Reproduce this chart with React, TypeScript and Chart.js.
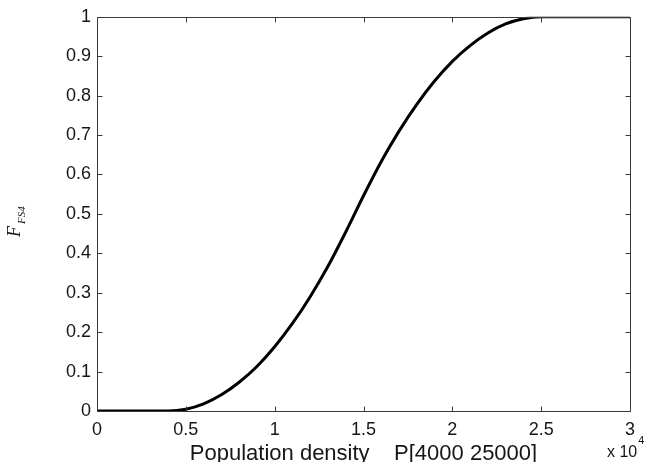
import React, { useEffect, useRef } from "react";
import { Chart, registerables } from "chart.js";

Chart.register(...registerables);

// Population density (people) (shown in units of 10^4)
const densityValues = [
  0, 1000, 2000, 3000, 4000, 5000, 6000, 7000, 8000, 9000,
  10000, 11000, 12000, 13000, 14000, 15000, 16000, 17000, 18000, 19000,
  20000, 21000, 22000, 23000, 24000, 25000, 26000, 27000, 28000, 29000, 30000,
];

// F_FS4 membership values
const fs4Values = [
  0, 0, 0, 0, 0, 0.0045, 0.018, 0.041, 0.073, 0.113,
  0.163, 0.222, 0.29, 0.367, 0.454, 0.546, 0.633, 0.71, 0.778, 0.837,
  0.887, 0.927, 0.959, 0.982, 0.995, 1, 1, 1, 1, 1, 1,
];

const xTickValues = [0, 5000, 10000, 15000, 20000, 25000, 30000];
const xTickLabels = ["0", "0.5", "1", "1.5", "2", "2.5", "3"];
const yTickValues = [0, 0.1, 0.2, 0.3, 0.4, 0.5, 0.6, 0.7, 0.8, 0.9, 1];
const yTickLabels = ["0", "0.1", "0.2", "0.3", "0.4", "0.5", "0.6", "0.7", "0.8", "0.9", "1"];

const xAxisTitle = "Population density    P[4000 25000]";
const xExponentBase = "x 10";
const xExponent = "4";
const yTitleMain = "F";
const yTitleSub = "FS4";

const SANS = '"Liberation Sans", Arial, sans-serif';
const SERIF = '"Liberation Serif", "Times New Roman", serif';
const TEXT = "#161616";
const AXIS = "#3a3a3a";

const framePlugin = {
  id: "matlabFrame",
  afterDraw(chart: any) {
    const { ctx, chartArea, scales } = chart;
    const { left, right, top, bottom } = chartArea;
    const xs = scales.x;
    const ys = scales.y;
    ctx.save();
    ctx.strokeStyle = AXIS;
    ctx.lineWidth = 1;
    const L = Math.round(left) + 0.5;
    const R = Math.round(right) + 0.5;
    const T = Math.round(top) + 0.5;
    const B = Math.round(bottom) + 0.5;
    ctx.beginPath();
    ctx.rect(L, T, R - L, B - T);
    ctx.stroke();
    const tl = 5;
    ctx.beginPath();
    xTickValues.forEach((v) => {
      const px = Math.round(xs.getPixelForValue(v)) + 0.5;
      ctx.moveTo(px, B);
      ctx.lineTo(px, B - tl);
      ctx.moveTo(px, T);
      ctx.lineTo(px, T + tl);
    });
    yTickValues.forEach((v) => {
      const py = Math.round(ys.getPixelForValue(v)) + 0.5;
      ctx.moveTo(L, py);
      ctx.lineTo(L + tl, py);
      ctx.moveTo(R, py);
      ctx.lineTo(R - tl, py);
    });
    ctx.stroke();

    // x axis title
    ctx.fillStyle = TEXT;
    ctx.textBaseline = "alphabetic";
    ctx.textAlign = "center";
    ctx.font = `22px ${SANS}`;
    ctx.fillText(xAxisTitle, (left + right) / 2, 460);

    // x 10^4 multiplier
    ctx.textAlign = "left";
    ctx.font = `16px ${SANS}`;
    ctx.fillText(xExponentBase, 607, 457);
    const wb = ctx.measureText(xExponentBase).width;
    ctx.font = `11px ${SANS}`;
    ctx.fillText(xExponent, 607 + wb + 1, 444);

    // y axis title F_FS4 (rotated)
    ctx.translate(20, 237);
    ctx.rotate(-Math.PI / 2);
    ctx.font = `italic 18px ${SERIF}`;
    ctx.fillText(yTitleMain, 0, 0);
    const wf = ctx.measureText(yTitleMain).width;
    ctx.font = `italic 11px ${SERIF}`;
    ctx.fillText(yTitleSub, wf + 2, 5);
    ctx.restore();
  },
};

export default function App() {
  const canvasRef = useRef<HTMLCanvasElement | null>(null);

  useEffect(() => {
    const canvas = canvasRef.current;
    if (!canvas) return;
    const chart = new Chart(canvas, {
      type: "line",
      data: {
        datasets: [
          {
            data: densityValues.map((x, i) => ({ x, y: fs4Values[i] })),
            borderColor: "#000000",
            borderWidth: 3,
            pointRadius: 0,
            fill: false,
            cubicInterpolationMode: "monotone",
          },
        ],
      },
      options: {
        responsive: false,
        animation: false,
        devicePixelRatio: 1,
        layout: { padding: { left: 0, right: 24, top: 15, bottom: 0 } },
        plugins: { legend: { display: false }, tooltip: { enabled: false } },
        scales: {
          x: {
            type: "linear",
            min: 0,
            max: 30000,
            afterBuildTicks: (s: any) => {
              s.ticks = xTickValues.map((value) => ({ value }));
            },
            afterFit: (s: any) => {
              s.height = 51;
            },
            grid: { display: false, drawTicks: false },
            border: { display: false },
            ticks: {
              maxRotation: 0,
              autoSkip: false,
              padding: 8,
              color: TEXT,
              font: { family: SANS, size: 18 },
              callback: (_v: any, i: number) => xTickLabels[i],
            },
          },
          y: {
            type: "linear",
            min: 0,
            max: 1,
            afterBuildTicks: (s: any) => {
              s.ticks = yTickValues.map((value) => ({ value }));
            },
            afterFit: (s: any) => {
              s.width = 97;
            },
            grid: { display: false, drawTicks: false },
            border: { display: false },
            ticks: {
              autoSkip: false,
              padding: 6,
              color: TEXT,
              font: { family: SANS, size: 18 },
              callback: (_v: any, i: number) => yTickLabels[i],
            },
          },
        },
      },
      plugins: [framePlugin],
    } as any);
    return () => chart.destroy();
  }, []);

  return (
    <div style={{ position: "absolute", left: 0, top: 0, width: 654, height: 462, background: "#fff" }}>
      <canvas ref={canvasRef} width={654} height={462} style={{ display: "block" }} />
    </div>
  );
}
